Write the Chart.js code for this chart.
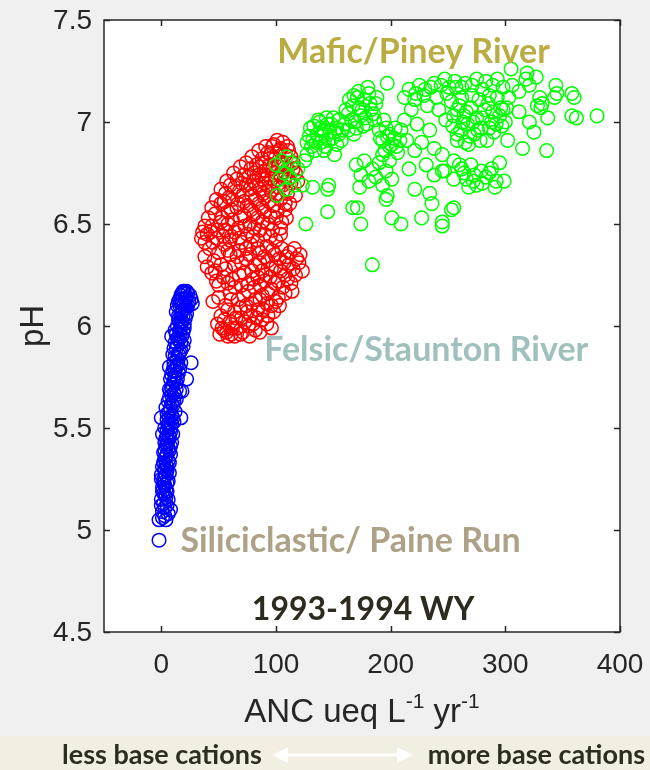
<!DOCTYPE html>
<html>
<head>
<meta charset="utf-8">
<title>pH x ANC 1993-1994 WY</title>
<script src="https://cdn.jsdelivr.net/npm/chart.js@4.4.1/dist/chart.umd.min.js"></script>
<style>
  html, body { margin:0; padding:0; background:#f0f0f0; }
  #grafico { display:block; }
</style>
</head>
<body>
<canvas id="grafico" width="650" height="770"></canvas>
<script>
// ticks dos eixos
const xTicks = [0, 100, 200, 300, 400];
const xTickLabels = ["0", "100", "200", "300", "400"];
const yTicks = [4.5, 5, 5.5, 6, 6.5, 7, 7.5];
const yTickLabels = ["4.5", "5", "5.5", "6", "6.5", "7", "7.5"];

// [ANC, pH] por bacia
const pineyPontos = [
  [100,6.79],[105,6.81],[109,6.83],[113,6.80],[107,6.75],[112,6.73],[103,6.72],[116,6.69],[109,6.67],[101,6.64],[119,6.77],
  [129,6.93],[131,6.88],[133,6.98],[136,6.94],[138,7.00],[139,6.90],[142,6.96],[144,7.02],[146,6.91],[148,6.99],[151,6.95],
  [153,6.89],[155,7.01],[158,6.96],[134,6.86],[142,6.86],[125,6.81],[127,6.84],[151,6.84],
  [130,6.97],[135,6.90],[140,6.93],[145,6.99],[149,6.92],[153,6.97],[157,6.91],[137,7.01],[132,6.91],[143,6.88],[150,7.02],
  [127,6.90],[155,6.94],[147,6.95],[139,6.97],
  [161,7.06],[164,7.11],[166,7.01],[168,7.13],[170,6.97],[173,7.07],[174,7.03],[177,7.11],[179,6.99],[181,7.14],[183,7.06],
  [186,7.01],[187,7.09],[160,6.99],[168,6.94],
  [163,7.04],[167,7.08],[171,7.12],[175,7.06],[178,7.02],[182,7.09],[185,7.04],[169,7.00],[176,6.98],[188,7.12],[163,6.96],
  [172,7.15],[180,7.17],
  [190,6.96],[193,6.91],[195,6.86],[199,6.94],[201,6.89],[204,6.97],[206,6.85],[194,7.01],[208,6.91],[197,7.19],
  [191,6.92],[196,6.97],[199,6.88],[203,6.92],[193,6.84],[205,6.88],[197,6.93],[209,6.96],
  [216,7.16],[221,7.11],[225,7.18],[229,7.13],[232,7.08],[235,7.17],[240,7.12],[244,7.18],[249,7.14],[253,7.10],[257,7.17],
  [218,7.06],[242,7.06],[212,7.01],
  [238,7.19],[247,7.21],[256,7.20],[265,7.19],[280,7.16],[289,7.18],[298,7.17],[230,7.16],[222,7.14],[212,7.12],[306,7.18],[312,7.15],
  [223,6.99],[227,6.90],[234,6.96],[245,6.84],[248,7.01],[254,6.98],[258,6.91],[238,6.87],[221,6.86],[214,6.91],
  [170,6.79],[174,6.74],[177,6.81],[181,6.71],[184,6.77],[187,6.73],[190,6.80],[193,6.69],[196,6.76],[199,6.81],[201,6.72],[173,6.68],
  [123,6.69],[132,6.68],[145,6.67],[146,6.69],[145,6.56],[126,6.50],[167,6.58],[171,6.58],[174,6.50],[184,6.30],
  [197,6.64],[196,6.62],[201,6.53],[209,6.50],[221,6.67],[227,6.53],[234,6.65],[236,6.60],[245,6.49],[253,6.57],[255,6.58],
  [216,6.77],[231,6.79],[238,6.74],[247,6.76],[255,6.72],[260,6.79],[245,6.51],[245,6.76],
  [305,7.26],[319,7.24],[318,7.21],[327,7.22],[321,7.18],[344,7.18],[345,7.14],[343,7.12],[358,7.14],[360,7.12],
  [330,7.12],[332,7.09],[328,7.08],[331,7.07],[337,7.02],[358,7.03],[362,7.02],[380,7.03],[312,7.05],[321,7.00],
  [325,6.95],[336,6.86],[315,6.87],[302,6.91],
  [293,7.21],[283,7.20],[275,7.21],[271,7.18],[262,7.17],[251,7.17],[286,7.13],[293,7.12],[296,7.07],[301,7.07],[303,7.12],
  [260,7.08],[264,7.03],[267,6.99],[270,7.07],[273,6.94],[275,7.02],[279,6.97],[282,7.06],[284,6.91],[288,7.00],[290,6.95],
  [295,7.03],[297,6.98],[268,6.89],[261,6.96],[277,7.11],[255,7.03],
  [258,7.06],[263,7.00],[266,7.05],[272,7.00],[276,6.96],[280,7.02],[286,6.97],[289,7.05],[292,6.99],[269,6.93],[278,6.91],
  [285,7.09],[262,7.12],[271,7.13],[298,7.06],[300,7.00],[258,6.94],[265,6.90],
  [262,6.77],[266,6.72],[270,6.79],[275,6.69],[279,6.76],[283,6.73],[288,6.77],[292,6.71],[295,6.80],[299,6.71],[268,6.68],[255,6.81],
  [264,6.75],[273,6.74],[286,6.75],[291,6.68],[280,6.70],[272,6.71]
];

const stauntonPontos = [
  [101,6.91],[106,6.90],[110,6.88],[97,6.88],[103,6.86],[93,6.85],[108,6.84],[113,6.83],[99,6.82],[88,6.82],[105,6.80],
  [115,6.80],[83,6.79],[95,6.79],[110,6.77],[78,6.77],[90,6.76],[100,6.75],[117,6.75],[72,6.74],[85,6.74],[96,6.72],
  [107,6.72],[66,6.72],[80,6.71],[113,6.70],[90,6.70],[60,6.69],[74,6.69],[102,6.68],[86,6.67],[68,6.66],[96,6.66],
  [110,6.65],[56,6.65],[79,6.64],[90,6.63],[62,6.62],[104,6.62],[72,6.61],[85,6.60],[52,6.60],[98,6.59],[66,6.58],
  [78,6.57],[108,6.57],[58,6.56],[90,6.56],[47,6.55],[72,6.54],[84,6.53],[100,6.53],[62,6.52],[52,6.51],[77,6.50],
  [93,6.50],[44,6.49],[67,6.48],[86,6.47],[56,6.47],[104,6.48],[40,6.45],[75,6.45],[61,6.44],[95,6.44],[48,6.43],
  [84,6.42],[38,6.41],[55,6.40],[70,6.41],
  [98,6.89],[104,6.87],[95,6.84],[111,6.86],[91,6.80],[102,6.78],[86,6.78],[97,6.77],[107,6.79],[81,6.75],[93,6.74],
  [104,6.74],[76,6.73],[88,6.72],[99,6.71],[111,6.72],[70,6.70],[83,6.69],[94,6.68],[106,6.69],[64,6.68],[77,6.67],
  [89,6.65],[100,6.64],[59,6.63],[71,6.64],[82,6.62],[94,6.61],[108,6.60],[55,6.61],[67,6.60],[75,6.59],[88,6.58],
  [101,6.56],[61,6.57],[81,6.55],[95,6.54],[53,6.53],[69,6.53],[88,6.51],[105,6.51],[58,6.50],[73,6.49],[81,6.48],
  [97,6.47],[49,6.47],[64,6.46],[90,6.45],[43,6.46],[54,6.44],[68,6.43],[80,6.44],[100,6.42],[45,6.41],[60,6.42],
  [35,6.43],[115,6.77],[119,6.71],[117,6.64],[112,6.60],[109,6.53],[104,6.45],[63,6.75],[69,6.78],[74,6.80],[79,6.83],
  [85,6.86],[91,6.88],[57,6.71],[52,6.67],[48,6.62],[44,6.58],[41,6.53],[38,6.49],[36,6.46],
  [42,6.38],[50,6.36],[38,6.34],[58,6.37],[46,6.32],[40,6.29],[52,6.30],[44,6.26],[54,6.24],[50,6.20],
  [78,6.40],[92,6.39],[105,6.38],[68,6.37],[86,6.36],[99,6.35],[112,6.36],[118,6.33],[74,6.33],[93,6.32],[107,6.31],
  [82,6.30],[64,6.30],[100,6.29],[115,6.28],[123,6.27],[88,6.27],[72,6.26],[108,6.25],[95,6.24],[80,6.23],[62,6.23],
  [102,6.22],[113,6.21],[86,6.20],[70,6.20],[96,6.18],[76,6.17],[108,6.16],[60,6.16],[88,6.15],[82,6.13],[67,6.13],
  [100,6.12],[92,6.11],[74,6.10],[56,6.10],[84,6.08],[64,6.07],[98,6.07],[78,6.05],[52,6.05],[70,6.04],[88,6.03],
  [60,6.02],[49,6.01],[76,6.00],[66,5.99],[96,5.99],[55,5.98],[82,5.98],[51,5.96],[61,5.96],[71,5.97],[58,5.95],
  [84,6.38],[97,6.37],[109,6.34],[120,6.31],[77,6.35],[90,6.34],[103,6.33],[70,6.31],[86,6.31],[111,6.30],[96,6.28],
  [79,6.27],[117,6.25],[104,6.27],[91,6.25],[68,6.25],[84,6.24],[110,6.23],[99,6.21],[76,6.21],[90,6.22],[106,6.19],
  [81,6.19],[64,6.19],[93,6.16],[114,6.17],[72,6.15],[102,6.14],[86,6.13],[61,6.13],[96,6.10],[79,6.11],[69,6.09],
  [89,6.08],[58,6.08],[103,6.10],[75,6.07],[93,6.05],[83,6.04],[65,6.04],[55,6.03],[73,6.02],[92,6.01],[80,6.01],
  [62,5.99],[53,5.99],[86,5.97],[69,5.96],[77,5.95],[57,5.97],[64,5.95],[121,6.35],[116,6.38],[60,6.35],[56,6.28],
  [47,6.27],[48,6.22],[58,6.21],[66,6.34],[74,6.38],[45,6.12],[50,6.14]
];

const painePontos = [
  [-2,4.95],
  [-2,5.05],[3,5.07],[8,5.10],[4,5.05],[1,5.09],[5,5.12],[2,5.13],[0,5.15],[4,5.16],[2,5.18],[5,5.19],[1,5.21],[3,5.22],
  [6,5.24],[2,5.25],[4,5.27],[7,5.28],[3,5.30],[5,5.31],[2,5.33],[6,5.34],[4,5.36],[8,5.37],[3,5.39],[6,5.40],[5,5.42],
  [9,5.43],[4,5.45],[7,5.46],[10,5.47],[5,5.49],[8,5.50],[6,5.52],[11,5.53],[7,5.55],[9,5.56],[5,5.57],[12,5.58],[8,5.60],
  [10,5.61],[6,5.63],[13,5.64],[9,5.66],[11,5.67],[7,5.69],[16,5.68],[10,5.71],[13,5.72],[8,5.74],[12,5.75],[15,5.77],
  [10,5.78],[13,5.80],[11,5.82],[17,5.82],[14,5.84],[10,5.86],[16,5.87],[13,5.89],[19,5.90],[12,5.92],[15,5.93],[18,5.95],
  [13,5.96],[16,5.98],[20,5.99],[14,6.00],[18,6.02],[15,6.03],[21,6.04],[17,6.06],[13,6.07],[19,6.08],[22,6.09],[16,6.10],
  [20,6.11],[24,6.12],[18,6.13],[22,6.14],[17,6.15],[20,6.16],[23,6.16],[26,6.13],[19,6.17],[15,6.12],[9,5.95],[7,5.80],
  [0,5.55],[1,5.47],[0,5.25],[18,5.68],[26,5.82],[17,5.55],[22,5.74],[27,6.11],
  [1,5.06],[6,5.08],[3,5.11],[0,5.12],[6,5.15],[3,5.17],[1,5.19],[4,5.20],[2,5.23],[5,5.23],[0,5.27],[3,5.26],[5,5.29],
  [1,5.31],[4,5.32],[7,5.33],[3,5.35],[5,5.37],[2,5.38],[7,5.39],[4,5.41],[8,5.41],[3,5.43],[6,5.44],[5,5.46],[8,5.48],
  [3,5.50],[6,5.51],[9,5.52],[5,5.54],[10,5.55],[7,5.58],[4,5.60],[9,5.62],[11,5.63],[7,5.65],[12,5.66],[8,5.68],[13,5.69],
  [9,5.70],[11,5.73],[14,5.74],[9,5.76],[12,5.78],[16,5.79],[11,5.80],[14,5.81],[12,5.85],[15,5.86],[17,5.88],[11,5.89],
  [14,5.91],[17,5.92],[20,5.93],[14,5.94],[16,5.96],[19,5.97],[12,5.98],[17,6.00],[20,6.01],[16,6.02],[19,6.05],[15,6.05],
  [22,6.06],[18,6.07],[21,6.09],[14,6.10],[18,6.11],[23,6.10],[16,6.13],[21,6.13],[25,6.15],[18,6.16],[20,6.17],[22,6.17]
];

const paraXY = pts => pts.map(p => ({ x: p[0], y: p[1] }));

// rótulos escritos dentro do gráfico (posição em unidades dos eixos)
const rotulos = [
  { texto:"Mafic/Piney River", x:220, y:7.29, cor:"#b9ac42", tam:34 },
  { texto:"Felsic/Staunton River", x:231, y:5.83, cor:"#a0c0bd", tam:34 },
  { texto:"Siliciclastic/ Paine Run", x:165, y:4.89, cor:"#ada188", tam:34 },
  { texto:"1993-1994 WY", x:176, y:4.56, cor:"#2d2a1f", tam:32 }
];

const fonteEixo = '"Liberation Sans", Arial, sans-serif';
const corEixo = "#262626";

const moldura = {
  id: "moldura",
  beforeDraw(chart){
    const { ctx, chartArea:a } = chart;
    ctx.save();
    ctx.fillStyle = "#ffffff";
    ctx.fillRect(a.left, a.top, a.right - a.left, a.bottom - a.top);
    ctx.fillStyle = "#f2efe2";
    ctx.fillRect(0, 736, chart.width, chart.height - 736);
    ctx.restore();
  },
  afterDatasetsDraw(chart){
    const { ctx, chartArea:a, scales:{ x, y } } = chart;
    ctx.save();

    // caixa e ticks para dentro
    ctx.strokeStyle = corEixo;
    ctx.lineWidth = 1.5;
    ctx.strokeRect(a.left, a.top, a.right - a.left, a.bottom - a.top);
    ctx.beginPath();
    xTicks.forEach(v => {
      const px = Math.round(x.getPixelForValue(v)) + 0.5;
      ctx.moveTo(px, a.bottom); ctx.lineTo(px, a.bottom - 6);
      ctx.moveTo(px, a.top); ctx.lineTo(px, a.top + 6);
    });
    yTicks.forEach(v => {
      const py = Math.round(y.getPixelForValue(v)) + 0.5;
      ctx.moveTo(a.left, py); ctx.lineTo(a.left + 6, py);
      ctx.moveTo(a.right, py); ctx.lineTo(a.right - 6, py);
    });
    ctx.stroke();

    // rótulos dos ticks
    ctx.fillStyle = corEixo;
    ctx.font = `28px ${fonteEixo}`;
    ctx.textBaseline = "middle";
    ctx.textAlign = "center";
    xTicks.forEach((v, i) => ctx.fillText(xTickLabels[i], x.getPixelForValue(v), a.bottom + 33));
    ctx.textAlign = "right";
    yTicks.forEach((v, i) => ctx.fillText(yTickLabels[i], a.left - 12, y.getPixelForValue(v) + 1));

    // rótulos das bacias
    ctx.textAlign = "center";
    ctx.textBaseline = "alphabetic";
    rotulos.forEach(r => {
      ctx.font = `bold ${r.tam}px Lato, "Open Sans", sans-serif`;
      ctx.fillStyle = r.cor;
      ctx.fillText(r.texto, x.getPixelForValue(r.x), y.getPixelForValue(r.y));
    });

    // título do eixo y
    ctx.fillStyle = corEixo;
    ctx.font = `33px ${fonteEixo}`;
    ctx.translate(34, (a.top + a.bottom) / 2);
    ctx.rotate(-Math.PI / 2);
    ctx.textBaseline = "middle";
    ctx.fillText("pH", 0, 0);
    ctx.setTransform(1, 0, 0, 1, 0, 0);

    // título do eixo x com expoentes
    const partes = [
      { t:"ANC ueq L", s:33, dy:0 },
      { t:"-1", s:21, dy:-14 },
      { t:" yr", s:33, dy:0 },
      { t:"-1", s:21, dy:-14 }
    ];
    let larg = 0;
    partes.forEach(p => { ctx.font = `${p.s}px ${fonteEixo}`; p.w = ctx.measureText(p.t).width; larg += p.w; });
    let cx = (a.left + a.right) / 2 - larg / 2;
    ctx.textAlign = "left";
    ctx.textBaseline = "alphabetic";
    partes.forEach(p => {
      ctx.font = `${p.s}px ${fonteEixo}`;
      ctx.fillText(p.t, cx, 722 + p.dy);
      cx += p.w;
    });

    // faixa de baixo
    ctx.fillStyle = "#2e2b20";
    ctx.font = 'bold 27px Lato, "Open Sans", sans-serif';
    ctx.textAlign = "left";
    ctx.fillText("less base cations", 62, 764);
    ctx.textAlign = "right";
    ctx.fillText("more base cations", 645, 764);

    // seta dupla
    ctx.fillStyle = "rgba(255,255,255,0.95)";
    ctx.strokeStyle = "rgba(255,255,255,0.95)";
    ctx.lineWidth = 3;
    ctx.beginPath(); ctx.moveTo(284, 755); ctx.lineTo(400, 755); ctx.stroke();
    ctx.beginPath(); ctx.moveTo(272, 755); ctx.lineTo(288, 747); ctx.lineTo(288, 763); ctx.closePath(); ctx.fill();
    ctx.beginPath(); ctx.moveTo(413, 755); ctx.lineTo(397, 747); ctx.lineTo(397, 763); ctx.closePath(); ctx.fill();

    ctx.restore();
  }
};

const serie = (pts, cor) => ({
  data: paraXY(pts),
  borderColor: cor,
  backgroundColor: "rgba(0,0,0,0)",
  pointRadius: 6.8,
  pointHoverRadius: 6.8,
  pointBorderWidth: 1.5,
  showLine: false
});

new Chart(document.getElementById("grafico").getContext("2d"), {
  type: "scatter",
  data: {
    datasets: [
      serie(pineyPontos, "#00ff00"),
      serie(stauntonPontos, "#ff0000"),
      serie(painePontos, "#0000ff")
    ]
  },
  options: {
    responsive: false,
    animation: false,
    layout: { padding: { top: 20, right: 30, left: 0, bottom: 0 } },
    plugins: { legend: { display: false }, tooltip: { enabled: false } },
    scales: {
      x: {
        type: "linear", min: -50, max: 400,
        afterBuildTicks: s => { s.ticks = xTicks.map(v => ({ value: v })); },
        afterFit: s => { s.height = 138; },
        grid: { display: false, drawTicks: false },
        border: { display: false },
        ticks: { display: false }
      },
      y: {
        type: "linear", min: 4.5, max: 7.5,
        afterBuildTicks: s => { s.ticks = yTicks.map(v => ({ value: v })); },
        afterFit: s => { s.width = 104; },
        grid: { display: false, drawTicks: false },
        border: { display: false },
        ticks: { display: false }
      }
    }
  },
  plugins: [moldura]
});
</script>
</body>
</html>
